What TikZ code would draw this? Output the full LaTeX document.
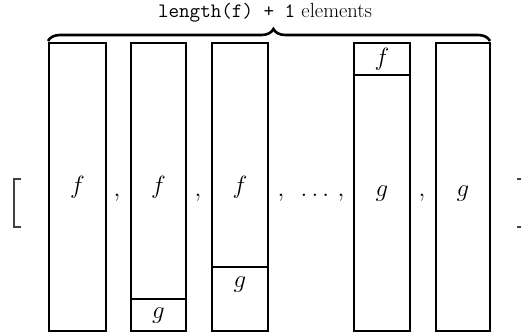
\documentclass[tikz,border=0pt]{standalone}
\usetikzlibrary{decorations.pathreplacing}
\begin{document}
\begin{tikzpicture}[x=1pt,y=-1pt,
  cell/.style={draw=black,line width=1.8pt},
  lab/.style={inner sep=0pt,anchor=base,font=\fontsize{25}{30}\selectfont},
  brk/.style={draw=black!75,line width=1.2pt}]
\useasboundingbox (0,0) rectangle (521,335);
% columns
\draw[cell] (49,43) rectangle (106,331);
\draw[cell] (131,43) rectangle (186,331);
\draw[cell] (131,299) -- (186,299);
\draw[cell] (212,43) rectangle (268,331);
\draw[cell] (212,267) -- (268,267);
\draw[cell] (354,43) rectangle (410,331);
\draw[cell] (354,75) -- (410,75);
\draw[cell] (436,43) rectangle (490,331);
% labels
\node[lab] (f1) at (77.5,193) {$f$};
\node[lab] (f2) at (158.5,193) {$f$};
\node[lab] (f3) at (240,193) {$f$};
\node[lab] (g4) at (382,196) {$g$};
\node[lab] (g5) at (463,196) {$g$};
\node[lab] (f4) at (382,65) {$f$};
\node[lab] (g2) at (158.5,318) {$g$};
\node[lab] (g3) at (240,287) {$g$};
% separators
\node[lab] (c1) at (117,196) {$,$};
\node[lab] (c2) at (198,196) {$,$};
\node[lab] (c3) at (281,196) {$,$};
\node[lab] (dots) at (315,196) {$\ldots$};
\node[lab] (c4) at (341,196) {$,$};
\node[lab] (c5) at (422,196) {$,$};
% brace
\draw[line width=2.6pt,decorate,decoration={brace,amplitude=12pt,aspect=0.51}]
  (48,41) -- (490,41);
\node[inner sep=0pt,anchor=base,font=\fontsize{20.5}{24}\selectfont] (len) at (265,17)
  {\texttt{length(f) + 1} elements};
% brackets
\draw[brk] (21,179) -- (14,179) -- (14,227) -- (21,227);
\draw[brk] (517,179) -- (524,179) -- (524,227) -- (517,227);
\end{tikzpicture}
\end{document}
